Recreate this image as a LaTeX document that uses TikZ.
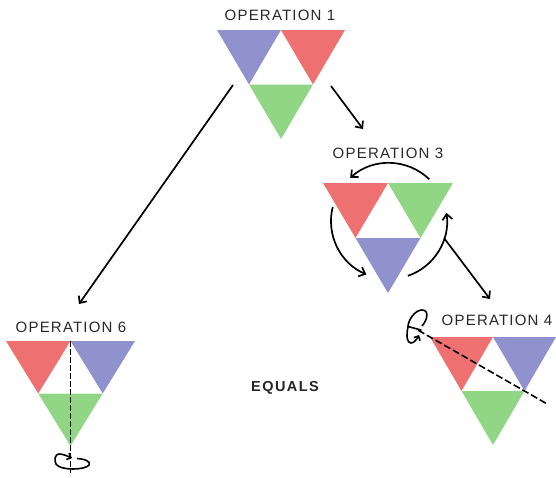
\documentclass[tikz,border=0pt]{standalone}
\usepackage{fontspec}
\setmainfont{Liberation Sans}
\newfontfamily\labfont[LetterSpace=8]{Liberation Sans}
\newfontfamily\eqfont[LetterSpace=10]{Liberation Sans}
\usetikzlibrary{arrows.meta,calc}

\definecolor{triblue}{RGB}{143,146,204}
\definecolor{trired}{RGB}{239,112,112}
\definecolor{trigreen}{RGB}{144,214,132}
\definecolor{labgrey}{RGB}{40,40,40}

% three-triangle group: top-left corner (#1,#2), side #3, height #4, colours left/right/bottom
\newcommand{\trigroup}[8]{%
  \coordinate (#8-tl) at (#1,#2);
  \coordinate (#8-tm) at ({#1+#3},#2);
  \coordinate (#8-tr) at ({#1+2*#3},#2);
  \coordinate (#8-ml) at ({#1+0.5*#3},{#2+#4});
  \coordinate (#8-mr) at ({#1+1.5*#3},{#2+#4});
  \coordinate (#8-bt) at ({#1+#3},{#2+2*#4});
  \fill[#5] (#8-tl) -- (#8-tm) -- (#8-ml) -- cycle;
  \fill[#6] (#8-tm) -- (#8-tr) -- (#8-mr) -- cycle;
  \fill[#7] (#8-ml) -- (#8-mr) -- (#8-bt) -- cycle;
}

\begin{document}
\begin{tikzpicture}[x=1pt,y=-1pt,
  lab/.style={text=labgrey,font=\labfont\fontsize{15}{17}\selectfont,inner sep=0pt},
  arr/.style={line width=1.7pt,-{Straight Barb[length=5.5pt,width=10pt]}},
  axisline/.style={line width=1.6pt,dash pattern=on 5.5pt off 2.5pt},
  spin/.style={line width=1.6pt,-{Straight Barb[length=3.5pt,width=7pt]}}]
\useasboundingbox (0,0) rectangle (556,477);

% the four triangle groups
\trigroup{217}{30}{64}{54.5}{triblue}{trired}{trigreen}{op1}
\trigroup{323}{183}{65}{55}{trired}{trigreen}{triblue}{op3}
\trigroup{6}{341}{64.5}{52.5}{trired}{triblue}{trigreen}{op6}
\trigroup{430}{337}{63}{54}{trired}{triblue}{trigreen}{op4}

% labels
\node[lab] (l1) at (280,15) {OPERATION 1};
\node[lab] (l3) at (388,153) {OPERATION 3};
\node[lab] (l6) at (71,327) {OPERATION 6};
\node[lab] (l4) at (497,320) {OPERATION 4};
\node[text=black!85,font=\eqfont\bfseries\fontsize{14.5}{17}\selectfont,inner sep=0pt] (eq) at (285,388) {EQUALS};

% connectors between the operations
\coordinate (a1s) at (233,85);
\coordinate (a1e) at (79,304);
\coordinate (a2s) at (331,86);
\coordinate (a2e) at (363,129);
\coordinate (a3s) at (444,238);
\coordinate (a3e) at (490,299);
\draw[arr] (a1s) -- (a1e);
\draw[arr] (a2s) -- (a2e);
\draw[arr] (a3s) -- (a3e);

% rotation arrows round operation 3 (angles negated: the y axis points down)
\coordinate (c3) at (389,221);
\draw[arr] ($(c3)+(-46:58)$) arc[start angle=-46,end angle=-132,radius=58];
\draw[arr] ($(c3)+(-166:58)$) arc[start angle=-166,end angle=-247,radius=58];
\draw[arr] ($(c3)+(-289:58)$) arc[start angle=-289,end angle=-368,radius=58];

% operation 6: vertical axis with turn symbol
\coordinate (ax6e) at ($(op6-tm)+(0,132)$);
\draw[axisline] (op6-tm) -- (ax6e);
\draw[spin] (77,458.5) .. controls (86,459) and (91,462) .. (89,465)
  .. controls (86,470) and (60,471) .. (56,464)
  .. controls (54,460) and (55,454) .. (59,454)
  .. controls (63,454) and (67,456) .. (72,458);

% operation 4: tilted axis with turn symbol
\coordinate (m4) at ($(op4-tr)!0.5!(op4-bt)$);
\draw[axisline,dash pattern=on 7pt off 3pt] ($(op4-tl)!-0.125!(m4)$) -- ($(op4-tl)!1.23!(m4)$);
\draw[line width=1.6pt,line cap=round] (408,326.5) -- (421,330);
\draw[spin] (422,326) .. controls (428,319) and (429,310) .. (422,310)
  .. controls (415,310) and (408,320) .. (408,327)
  .. controls (406,336) and (407,343) .. (411,343)
  .. controls (414,343) and (417,339) .. (419,335);
\end{tikzpicture}
\end{document}
